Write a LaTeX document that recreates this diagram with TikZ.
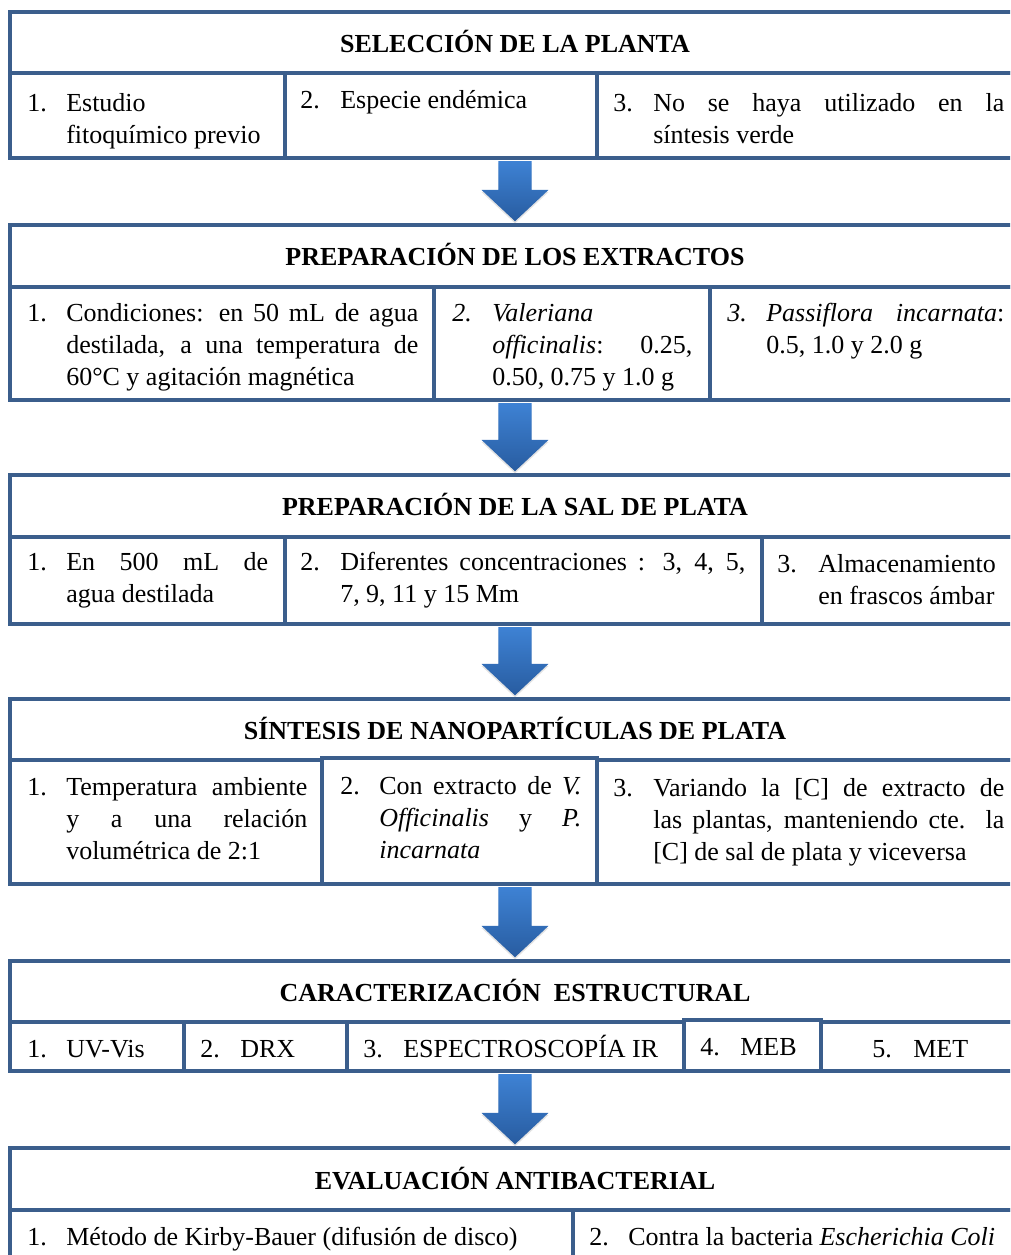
\documentclass[tikz,border=0pt]{standalone}
\usepackage{fontspec}
\setmainfont{Liberation Serif}
\usetikzlibrary{fit,shadows,calc}
\definecolor{frame}{RGB}{59,94,140}
\definecolor{arrtop}{RGB}{62,130,212}
\definecolor{arrbot}{RGB}{40,92,160}
\newdimen\px \px=0.75pt
\newcommand\itm[4]{\parbox[t]{#1\px}{\tolerance=9000\hyphenpenalty=10000\exhyphenpenalty=10000\emergencystretch=0pt\hangindent=#2\px\hangafter=1\noindent\makebox[#2\px][l]{#3}#4\par}}
\newcommand\flow[2]{\path[blockarrow] let \p1=(#2.north |- #1.south), \p2=(#2.north) in
  (\x1-12.4pt,\y1-1pt) -- (\x1+12.4pt,\y1-1pt) -- (\x1+12.4pt,\y2+25pt) -- (\x1+25.1pt,\y2+25pt)
  -- (\x1,\y2+1.5pt) -- (\x1-25.1pt,\y2+25pt) -- (\x1-12.4pt,\y2+25pt) -- cycle;}
\tikzset{
  box/.style={draw=frame, line width=2.6pt, inner sep=0pt, fill=white},
  hdr/.style={font=\fontsize{19.5}{24}\selectfont\bfseries, inner sep=0pt, anchor=base},
  txt/.style={font=\fontsize{19.5}{24}\selectfont, inner sep=0pt, anchor=base west},
  blockarrow/.style={top color=arrtop, bottom color=arrbot, draw=none,
    drop shadow={opacity=0.22, shadow xshift=0pt, shadow yshift=-1.6pt}}
}
\begin{document}
\begin{tikzpicture}[x=0.75pt,y=-0.75pt]
\useasboundingbox (0,0) rectangle (1010,1255);
\clip (0,0) rectangle (1010,1255);
\fill[white] (0,0) rectangle (1010,1255);
% ---------- Section 1
\node[box, fit={(10,12) (1020,73)}] (h1) {};
\node[box, fit={(10,73) (285,158)}] (c11) {};
\node[box, fit={(285,73) (597,158)}] (c12) {};
\node[box, fit={(597,73) (1020,158)}] (c13) {};
\node[hdr] (h1t) at (515,53) {SELECCIÓN DE LA PLANTA};
\node[txt] (t11) at (27,112) {\itm{242}{39}{1.}{Estudio\\fitoquímico previo}};
\node[txt] (t12) at (300,109) {\itm{281}{40}{2.}{Especie endémica}};
\node[txt] (t13) at (613,112) {\itm{391}{40}{3.}{No se haya utilizado en la\linebreak{} síntesis verde}};
% ---------- Section 2
\node[box, fit={(10,225) (1020,287)}] (h2) {};
\node[box, fit={(10,287) (434,400)}] (c21) {};
\node[box, fit={(434,287) (710,400)}] (c22) {};
\node[box, fit={(710,287) (1020,400)}] (c23) {};
\node[hdr] (h2t) at (515,265) {PREPARACIÓN DE LOS EXTRACTOS};
\node[txt] (t21) at (27,321) {\itm{391}{39}{1.}{Condiciones: en 50 mL de agua\linebreak{} destilada, a una temperatura de\linebreak{} 60°C y agitación magnética}};
\node[txt] (t22) at (452,321) {\itm{240}{40}{\textit{2.}}{\textit{Valeriana}\\\textit{officinalis}: 0.25,\linebreak{} 0.50, 0.75 y 1.0 g}};
\node[txt] (t23) at (727,321) {\itm{277}{39}{\textit{3.}}{\textit{Passiflora incarnata}:\linebreak{} 0.5, 1.0 y 2.0 g}};
% ---------- Section 3
\node[box, fit={(10,475) (1020,537)}] (h3) {};
\node[box, fit={(10,537) (285,624)}] (c31) {};
\node[box, fit={(285,537) (762,624)}] (c32) {};
\node[box, fit={(762,537) (1020,624)}] (c33) {};
\node[hdr] (h3t) at (515,515) {PREPARACIÓN DE LA SAL DE PLATA};
\node[txt] (t31) at (27,570) {\itm{241}{39}{1.}{En 500 mL de\linebreak{} agua destilada}};
\node[txt] (t32) at (300,570) {\itm{445}{40}{2.}{Diferentes concentraciones : 3, 4, 5,\linebreak{} 7, 9, 11 y 15 Mm}};
\node[txt] (t33) at (777,572) {\itm{225}{41}{3.}{Almacenamiento\\en frascos ámbar}};
% ---------- Section 4
\node[box, fit={(10,699) (1020,760)}] (h4) {};
\node[box, fit={(10,760) (322,884)}] (c41) {};
\node[box, fit={(597,760) (1020,884)}] (c43) {};
\node[box, fit={(322,758) (597,884)}] (c42) {};
\node[hdr] (h4t) at (515,739) {SÍNTESIS DE NANOPARTÍCULAS DE PLATA};
\node[txt] (t41) at (27,795) {\itm{280}{39}{1.}{Temperatura ambiente\linebreak{} y a una relación\linebreak{} volumétrica de 2:1}};
\node[txt] (t42) at (340,794) {\itm{241}{39}{2.}{Con extracto de \textit{V.}\linebreak{} \textit{Officinalis} y \textit{P.}\linebreak{} \textit{incarnata}}};
\node[txt] (t43) at (613,796) {\itm{391}{40}{3.}{Variando la {[C]} de extracto de\linebreak{} las plantas, manteniendo cte. la\linebreak{} {[C]} de sal de plata y viceversa}};
% ---------- Section 5
\node[box, fit={(10,961) (1020,1022)}] (h5) {};
\node[box, fit={(10,1022) (184,1071)}] (c51) {};
\node[box, fit={(184,1022) (347,1071)}] (c52) {};
\node[box, fit={(347,1022) (684,1071)}] (c53) {};
\node[box, fit={(821,1022) (1020,1071)}] (c55) {};
\node[box, fit={(684,1020) (821,1071)}] (c54) {};
\node[hdr] (h5t) at (515,1001) {CARACTERIZACIÓN\ \ ESTRUCTURAL};
\node[txt] (t51) at (27,1057) {\makebox[39\px][l]{1.}UV-Vis};
\node[txt] (t52) at (200,1057) {\makebox[40\px][l]{2.}DRX};
\node[txt] (t53) at (363,1057) {\makebox[40\px][l]{3.}ESPECTROSCOPÍA IR};
\node[txt] (t54) at (700,1055) {\makebox[40\px][l]{4.}MEB};
\node[txt] (t55) at (872,1057) {\makebox[41\px][l]{5.}MET};
% ---------- Section 6
\node[box, fit={(10,1148) (1020,1210)}] (h6) {};
\node[box, fit={(10,1210) (573,1275)}] (c61) {};
\node[box, fit={(573,1210) (1020,1275)}] (c62) {};
\node[hdr] (h6t) at (515,1189) {EVALUACIÓN ANTIBACTERIAL};
\node[txt] (t61) at (27,1245) {\makebox[39\px][l]{1.}Método de Kirby-Bauer (difusión de disco)};
\node[txt] (t62) at (589,1245) {\makebox[39\px][l]{2.}Contra la bacteria \textit{Escherichia Coli}};
% ---------- Arrows
\flow{c12}{h2}
\flow{c22}{h3}
\flow{c32}{h4}
\flow{c42}{h5}
\flow{c53}{h6}
\end{tikzpicture}
\end{document}
